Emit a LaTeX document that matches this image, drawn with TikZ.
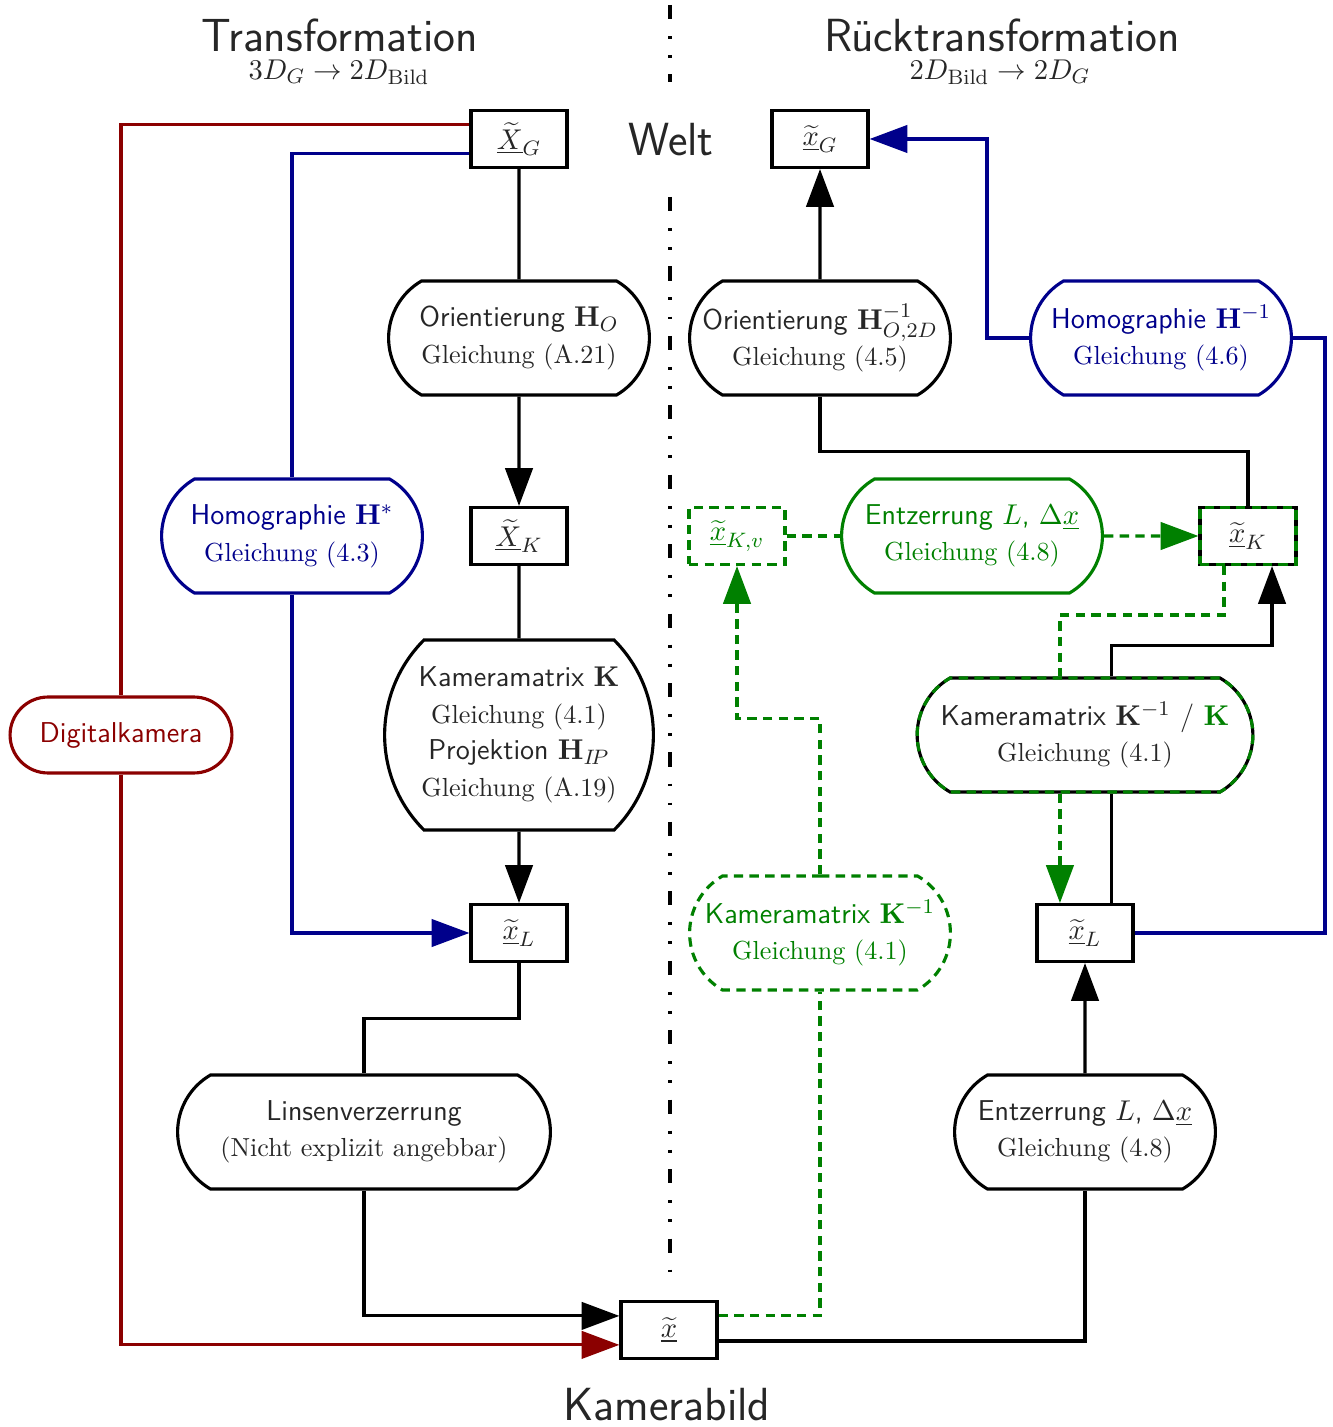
\documentclass[tikz,border=0pt]{standalone}
\usetikzlibrary{arrows.meta,shapes.misc,calc}
\definecolor{dred}{HTML}{8B0000}
\definecolor{hblue}{HTML}{00008B}
\definecolor{egreen}{HTML}{008000}
\newcommand{\gleich}[1]{{\rmfamily\fontsize{10}{14}\selectfont #1}}

\tikzset{
  arr/.style={-{Triangle[length=14.5pt,width=10.5pt]}},
  gdash/.style={dash pattern=on 3.6pt off 2.4pt},
  midline/.style={line width=1.2pt,dash pattern=on 5.4pt off 6.5pt on 1.1pt off 6.2pt on 1.1pt off 6.3pt},
  vbox/.style={draw,rectangle,line width=1.2pt,minimum width=36.8pt,minimum height=21.8pt,inner sep=0pt,
    font=\fontsize{11}{13}\selectfont},
  op/.style={draw,rounded rectangle,rounded rectangle arc length=120,line width=1.2pt,align=center,
    minimum width=101.9pt,minimum height=43.7pt,inner sep=1pt,font=\sffamily\fontsize{11}{14}\selectfont},
  gover/.style={postaction={draw=egreen,gdash}},
  title/.style={font=\sffamily\fontsize{17.8}{21}\selectfont},
  subt/.style={font=\fontsize{11}{13}\selectfont},
}

\begin{document}
\begin{tikzpicture}[x=0.3831pt,y=-0.3831pt,line width=1.2pt,every node/.style={text=black!85}]
  \useasboundingbox (0,0) rectangle (1332,1427);

  % titles
  \node[title] (tL) at (340,35) {Transformation};
  \node[subt] (tLs) at (339,72) {$3D_G \rightarrow 2D_{\mathrm{Bild}}$};
  \node[title] (tR) at (1002,35) {Rücktransformation};
  \node[subt] (tRs) at (1000,72) {$2D_{\mathrm{Bild}} \rightarrow 2D_G$};
  \node[title] (welt) at (671,140) {Welt};
  \node[title] (kbild) at (667,1405) {Kamerabild};

  \draw[midline] (670,5) -- (670,82);
  \draw[midline] (670,197) -- (670,1272);

  % Transformation
  \node[vbox] (XG) at (519,139) {$\underline{\widetilde{X}}_G$};
  \node[op] (nO) at (519,338) {Orientierung $\mathbf{H}_O$\\\gleich{Gleichung (A.21)}};
  \node[vbox] (XK) at (519,536) {$\underline{\widetilde{X}}_K$};
  \node[op,minimum height=72.8pt,rounded rectangle arc length=90] (nK) at (519,735)
    {Kameramatrix $\mathbf{K}$\\\gleich{Gleichung (4.1)}\\Projektion $\mathbf{H}_{I\!P}$\\\gleich{Gleichung (A.19)}};
  \node[vbox] (xL) at (519,933) {$\underline{\widetilde{x}}_L$};
  \node[op,minimum width=144.8pt] (nLin) at (364,1132) {Linsenverzerrung\\\gleich{(Nicht explizit angebbar)}};
  \node[op,draw=hblue,text=hblue] (nHs) at (292,536) {Homographie $\mathbf{H}^*$\\\gleich{Gleichung (4.3)}};
  \node[op,draw=dred,text=dred,minimum width=87pt,minimum height=29.1pt,rounded rectangle arc length=180] (nDig) at (121,735) {Digitalkamera};
  \node[vbox] (xB) at (669,1330) {$\underline{\widetilde{x}}$};

  \draw (XG) -- (nO);
  \draw[arr] (nO) -- (XK);
  \draw (XK) -- (nK);
  \draw[arr] (nK) -- (xL);
  \draw (xL.south) |- ($(xL.south)!0.5!(nLin.north)$) -| (nLin.north);
  \draw[arr] (nLin) |- ([yshift=5.4pt]xB.west);
  \draw[dred] ([yshift=5.4pt]XG.west) -| (nDig);
  \draw[dred,arr] (nDig) |- ([yshift=-5.7pt]xB.west);
  \draw[hblue] ([yshift=-5.4pt]XG.west) -| (nHs);
  \draw[hblue,arr] (nHs) |- (xL);

  % Ruecktransformation
  \node[vbox] (xG) at (820,139) {$\underline{\widetilde{x}}_G$};
  \node[op] (nOi) at (820,338) {Orientierung $\mathbf{H}^{-1}_{O,2D}$\\\gleich{Gleichung (4.5)}};
  \node[op,draw=hblue,text=hblue] (nHi) at (1161,338) {Homographie $\mathbf{H}^{-1}$\\\gleich{Gleichung (4.6)}};
  \node[vbox,draw=egreen,gdash,text=egreen] (xKv) at (737,536) {$\underline{\widetilde{x}}_{K,v}$};
  \node[op,draw=egreen,text=egreen] (nEg) at (972,536) {Entzerrung $L$, $\Delta\underline{x}$\\\gleich{Gleichung (4.8)}};
  \node[vbox,gover] (xK) at (1248,536) {$\underline{\widetilde{x}}_K$};
  \node[op,gover,minimum width=130.6pt] (nKi) at (1085,735) {Kameramatrix $\mathbf{K}^{-1}$ / \textcolor{egreen}{$\mathbf{K}$}\\\gleich{Gleichung (4.1)}};
  \node[op,draw=egreen,gdash,text=egreen] (nKg) at (820,933) {Kameramatrix $\mathbf{K}^{-1}$\\\gleich{Gleichung (4.1)}};
  \node[vbox] (xLr) at (1085,933) {$\underline{\widetilde{x}}_L$};
  \node[op] (nEr) at (1085,1132) {Entzerrung $L$, $\Delta\underline{x}$\\\gleich{Gleichung (4.8)}};
  \coordinate (rE) at (1325,0);
  \coordinate (hK) at (987,139);

  \draw[arr] (nOi) -- (xG);
  \draw (nOi.south) |- ($(nOi.south)!0.5!(xK.north)$) -| (xK.north);
  \draw[hblue] (xLr.east) -| (rE |- nHi.east) -- (nHi.east);
  \draw[hblue,arr] (nHi.west) -| (hK) -- (xG.east);
  \draw ([xshift=10pt]xLr.north) -- ([xshift=10pt]nKi.south);
  \draw[arr] ([xshift=10pt]nKi.north) -- ++(0,-31) -| ([xshift=9.2pt]xK.south);
  \draw[arr] (nEr) -- (xLr);
  \draw ([yshift=-4.2pt]xB.east) -| (nEr);
  \draw[egreen,gdash] ([yshift=5.4pt]xB.east) -| (nKg);
  \draw[egreen,gdash,arr] (nKg.north) -- ++(0,-156) -| (xKv);
  \draw[egreen,gdash] (xKv) -- (nEg);
  \draw[egreen,gdash,arr] (nEg) -- (xK);
  \draw[egreen,gdash] ([xshift=-9.2pt]xK.south) -- ++(0,49) -| ([xshift=-9.6pt]nKi.north);
  \draw[egreen,gdash,arr] ([xshift=-9.6pt]nKi.south) -- ([xshift=-9.6pt]xLr.north);
\end{tikzpicture}
\end{document}
